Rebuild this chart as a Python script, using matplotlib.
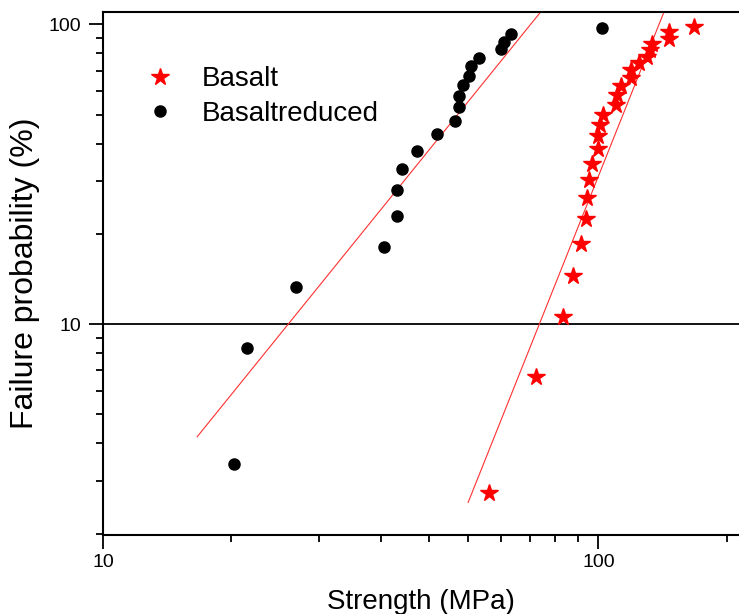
import matplotlib
matplotlib.use("Agg")
import matplotlib.pyplot as plt
from matplotlib.ticker import FixedLocator, NullFormatter, LogLocator

plt.rcParams['font.family'] = ['Liberation Sans', 'DejaVu Sans']

# Basalt (red stars)
basalt_strength = [156.2, 139.1, 139.1, 128.3, 127.0, 125.1, 121.0, 116.6, 116.6,
                   111.1, 108.9, 108.7, 102.0, 100.8, 99.7, 99.7, 97.3, 95.9,
                   94.8, 94.3, 92.2, 88.8, 85.0, 74.7, 60.2]
basalt_prob = [97.6, 94.0, 89.5, 85.8, 82.1, 77.8, 74.1, 70.2, 66.4,
               62.2, 57.9, 53.9, 49.9, 46.1, 42.3, 38.3, 34.1, 30.2,
               26.3, 22.4, 18.45, 14.5, 10.57, 6.64, 2.74]

# Basaltreduced (black circles)
reduced_strength = [101.7, 66.6, 64.6, 63.6, 57.5, 55.3, 54.9, 53.4, 52.4, 52.3,
                    51.4, 47.2, 43.0, 40.1, 39.3, 39.2, 36.9, 24.5, 19.5, 18.4]
reduced_prob = [97.2, 92.6, 87.5, 82.5, 77.4, 72.7, 67.4, 62.7, 57.8, 52.8,
                47.6, 42.9, 37.8, 32.9, 27.9, 23.0, 18.1, 13.3, 8.3, 3.4]

# Fit lines (end points)
fit_reduced_x = [15.5, 76.5]
fit_reduced_y = [4.21, 110.0]
fit_basalt_x = [54.6, 135.7]
fit_basalt_y = [2.54, 110.0]

fig = plt.figure(figsize=(7.39, 6.14), dpi=100)
ax = fig.add_axes([103/739, 1 - 534.5/614, 1 - 103/739, (534.5 - 12)/614])
ax.set_xscale('log')
ax.set_yscale('log')

ax.axhline(10, color='black', lw=1.3, zorder=1)
ax.plot(fit_reduced_x, fit_reduced_y, color='#ff3030', lw=0.8, zorder=2)
ax.plot(fit_basalt_x, fit_basalt_y, color='#ff3030', lw=0.8, zorder=2)

ax.plot(basalt_strength, basalt_prob, linestyle='none', marker='*', ms=13,
        color='red', mec='red', label='Basalt', zorder=3)
ax.plot(reduced_strength, reduced_prob, linestyle='none', marker='o', ms=8,
        color='black', label='Basaltreduced', zorder=3)

ax.set_xlim(10, 192.3)
ax.set_ylim(1.985, 109.9)

ax.xaxis.set_major_locator(FixedLocator([10, 100]))
ax.xaxis.set_minor_locator(FixedLocator([v * 0.9083 for v in [20, 30, 40, 50, 60, 70, 80, 90, 100, 200]]))
ax.xaxis.set_minor_formatter(NullFormatter())
ax.set_xticklabels(['10', '100'])
ax.yaxis.set_major_locator(FixedLocator([10, 100]))
ax.yaxis.set_minor_locator(LogLocator(base=10, subs=range(2, 10)))
ax.yaxis.set_minor_formatter(NullFormatter())
ax.set_yticklabels(['10', '100'])

for s in ['left', 'bottom', 'top']:
    ax.spines[s].set_linewidth(1.5)
ax.spines['right'].set_visible(False)

ax.tick_params(which='major', direction='out', length=10, width=1.3, labelsize=14, colors='black')
ax.tick_params(axis='x', which='major', pad=4)
ax.tick_params(axis='y', which='major', pad=6)
ax.tick_params(which='minor', direction='out', length=5, width=1.3)
ax.tick_params(axis='x', which='both', top=False)

ax.set_xlabel('Strength (MPa)', fontsize=20, labelpad=13)
ax.set_ylabel('Failure probability (%)', fontsize=23, labelpad=6)

ax.legend(loc='upper left', bbox_to_anchor=(0.05, 0.917), frameon=False, fontsize=20,
          handlelength=1.0, handletextpad=1.0, labelspacing=0.3, borderaxespad=0)

fig.savefig('out.png', dpi=100)
